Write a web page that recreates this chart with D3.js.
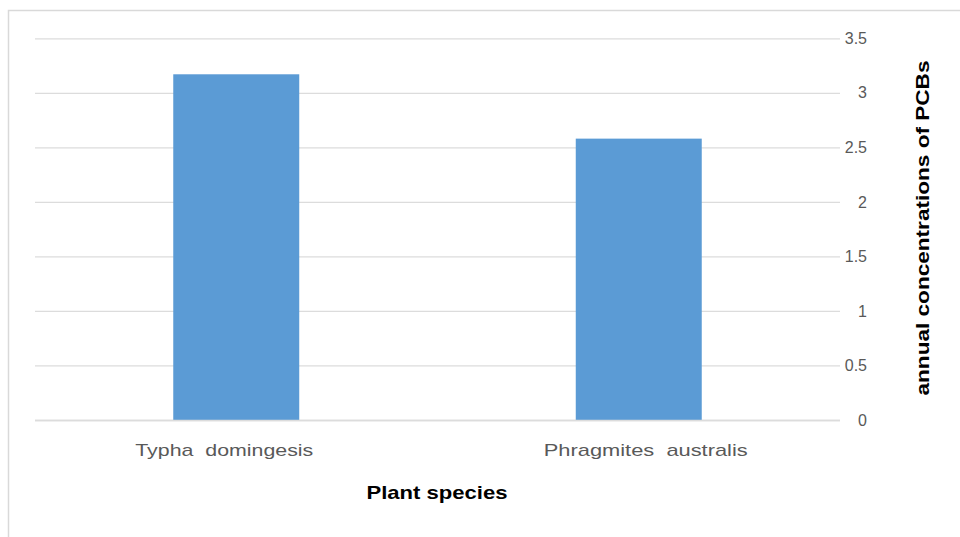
<!DOCTYPE html>
<html>
<head>
<meta charset="utf-8">
<script src="https://cdn.jsdelivr.net/npm/d3@7"></script>
<style>
  html, body { margin: 0; padding: 0; background: #fff; }
  svg { display: block; }
</style>
</head>
<body>
<svg id="chart" width="960" height="537"></svg>
<script>
// Plant species and their annual PCB concentrations
const categories = ["Typha  domingesis", "Phragmites  australis"];
const values = [3.17, 2.58];
const yTicks = [0, 0.5, 1, 1.5, 2, 2.5, 3, 3.5];
const xTitle = "Plant species";
const yTitle = "annual concentrations of PCBs";

const svg = d3.select("#chart");
const W = 960, H = 537;
const plot = { left: 35, right: 840, top: 38.3, bottom: 420 };
const font = "'Liberation Sans', 'DejaVu Sans', sans-serif";

// Chart-area frame (top and left edges visible)
svg.append("path")
  .attr("d", `M8.5,${H} L8.5,10.5 L${W},10.5`)
  .attr("fill", "none")
  .attr("stroke", "#d9d9d9")
  .attr("stroke-width", 1.5);

const x = d3.scaleBand()
  .domain(categories)
  .range([plot.left, plot.right])
  .paddingInner(0.687)
  .paddingOuter(0.3435);

const y = d3.scaleLinear()
  .domain([0, 3.5])
  .range([plot.bottom, plot.top]);

// Gridlines and right-hand value labels
const yAxis = d3.axisRight(y)
  .tickValues(yTicks)
  .tickSize(-(plot.right - plot.left))
  .tickFormat(d => String(d));

const gy = svg.append("g")
  .attr("transform", `translate(${plot.right},0)`)
  .call(yAxis);
gy.select(".domain").remove();
gy.selectAll(".tick line")
  .attr("stroke", "#dcdcdc")
  .attr("stroke-width", 1.3);
gy.selectAll(".tick text")
  .attr("x", 27)
  .attr("text-anchor", "end")
  .attr("fill", "#595959")
  .style("font-family", font)
  .style("font-size", "16px");

// Bars
svg.append("g")
  .selectAll("rect")
  .data(categories.map((c, i) => ({ c, v: values[i] })))
  .join("rect")
  .attr("x", d => x(d.c))
  .attr("y", d => y(d.v))
  .attr("width", x.bandwidth())
  .attr("height", d => y(0) - y(d.v))
  .attr("fill", "#5b9bd5");

// Category labels (stretched, with small horizontal offsets)
const labelWidths = { "Typha  domingesis": 178, "Phragmites  australis": 204 };
const labelShift = { "Typha  domingesis": -12, "Phragmites  australis": 7 };
const xAxis = d3.axisBottom(x).tickSize(0).tickPadding(24);
const gx = svg.append("g")
  .attr("transform", `translate(0,${plot.bottom})`)
  .call(xAxis);
gx.select(".domain")
  .attr("stroke", "#dcdcdc")
  .attr("stroke-width", 1.3)
  .attr("d", `M${plot.left},0.5H${plot.right}`);
gx.selectAll(".tick text")
  .attr("fill", "#595959")
  .attr("x", d => labelShift[d])
  .attr("textLength", d => labelWidths[d])
  .attr("lengthAdjust", "spacingAndGlyphs")
  .style("white-space", "pre")
  .style("font-family", font)
  .style("font-size", "17px");

// Axis titles
svg.append("text")
  .attr("x", 437)
  .attr("y", 499)
  .attr("text-anchor", "middle")
  .attr("fill", "#000")
  .attr("textLength", 141)
  .attr("lengthAdjust", "spacingAndGlyphs")
  .style("font-family", font)
  .style("font-weight", "bold")
  .style("font-size", "19px")
  .text(xTitle);

svg.append("text")
  .attr("transform", `translate(929,228) rotate(-90)`)
  .attr("text-anchor", "middle")
  .attr("fill", "#000")
  .attr("textLength", 335)
  .attr("lengthAdjust", "spacingAndGlyphs")
  .style("font-family", font)
  .style("font-weight", "bold")
  .style("font-size", "18px")
  .text(yTitle);
</script>
</body>
</html>
